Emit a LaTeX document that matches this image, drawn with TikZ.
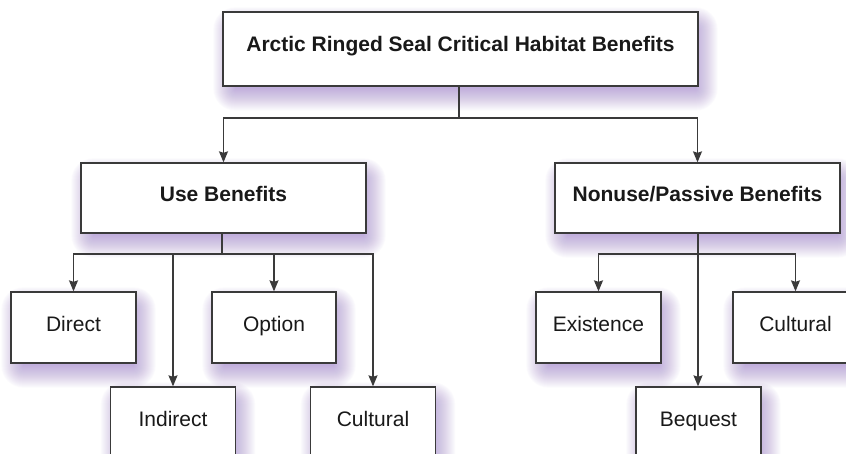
\documentclass[tikz,border=0pt]{standalone}
\usepackage{fontspec}
\setmainfont{Liberation Sans}
\usetikzlibrary{arrows.meta}
\pgfdeclarelayer{shadowlayer}
\pgfsetlayers{shadowlayer,main}
\definecolor{linec}{HTML}{3A3A3A}
\definecolor{shadc}{RGB}{140,105,195}
\tikzset{
  box/.style={draw=linec, line width=1.3pt, fill=white, rectangle, inner sep=0pt,
    text height=15pt, text depth=7pt, text=black!90,
    font=\fontsize{21}{25}\selectfont},
  bigbox/.style={box, font=\fontsize{21}{25}\selectfont\bfseries},
  smallbox/.style={box, minimum width=125pt, minimum height=71pt},
  midbox/.style={bigbox, minimum width=285pt, minimum height=70pt},
  conn/.style={draw=linec, line width=1.3pt},
  arr/.style={conn, -{Stealth[length=11pt,width=9pt,inset=1.5pt]}},
  shadowpiece/.style={fill=shadc, opacity=0.026},
}
\begin{document}
\begin{tikzpicture}[x=1pt,y=1pt]
\path[use as bounding box, clip] (0,0) rectangle (846,454);
% nodes
\node[bigbox, minimum width=475pt, minimum height=74pt, text depth=9pt] (top) at (460.5,405) {Arctic Ringed Seal Critical Habitat Benefits};
\node[midbox] (use) at (223.5,256) {Use Benefits};
\node[midbox] (nonuse) at (697.5,256) {Nonuse/Passive Benefits};
\node[smallbox] (direct) at (73.5,126.5) {Direct};
\node[smallbox, minimum width=124pt] (option) at (274,126.5) {Option};
\node[smallbox] (existence) at (598.5,126.5) {Existence};
\node[smallbox] (culturalB) at (795.5,126.5) {Cultural};
\node[smallbox] (indirect) at (173,31.5) {Indirect};
\node[smallbox] (culturalA) at (373,31.5) {Cultural};
\node[smallbox] (bequest) at (698.5,31.5) {Bequest};
% background and soft shadows
\begin{pgfonlayer}{shadowlayer}
\fill[white] (0,0) rectangle (846,454);
\foreach \n in {top,use,nonuse,direct,option,existence,culturalB,indirect,culturalA,bequest}{
  \foreach \r in {0,1,...,22}{
    \fill[shadowpiece, rounded corners=\r pt]
      ([shift={(5+8-\r,-10+8-\r)}]\n.south west) rectangle ([shift={(5-8+\r,-10-8+\r)}]\n.north east);
  }
}
\end{pgfonlayer}
% bus coordinates
\coordinate (j0) at (459,336);
\coordinate (j1) at (222,200);
\coordinate (j2) at (698,200);
% connectors
\draw[conn] (top.south -| j0) -- (j0);
\draw[arr] (j0) -| (use.north);
\draw[arr] (j0) -| (nonuse.north);
\draw[conn] (use.south -| j1) -- (j1);
\draw[arr] (j1) -| (direct.north);
\draw[arr] (j1) -| (option.north);
\draw[arr] (j1) -| (indirect.north);
\draw[arr] (j1) -| (culturalA.north);
\draw[arr] (nonuse.south -| j2) -- (j2) -- (bequest.north -| j2);
\draw[arr] (j2) -| (existence.north);
\draw[arr] (j2) -| (culturalB.north);
\end{tikzpicture}
\end{document}
